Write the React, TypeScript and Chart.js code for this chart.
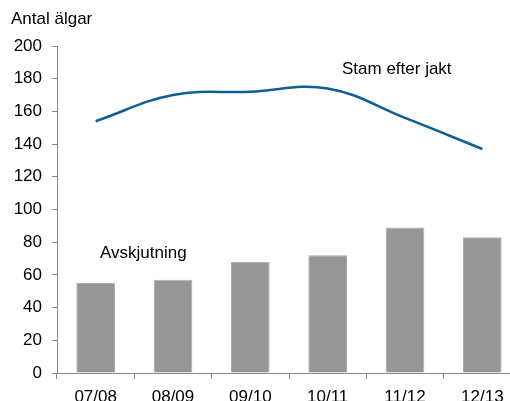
import React, { useEffect, useRef } from "react";
import { Chart, registerables } from "chart.js";

Chart.register(...registerables);

const categories = ["07/08", "08/09", "09/10", "10/11", "11/12", "12/13"];
const avskjutning = [55, 57, 68, 72, 89, 83];
const stamEfterJakt = [154, 170, 172, 174, 156, 137];
const yTicks = [0, 20, 40, 60, 80, 100, 120, 140, 160, 180, 200];

const FONT = "'Liberation Sans', Arial, sans-serif";

const textPlugin = {
  id: "labels",
  afterDraw(chart: any) {
    const ctx = chart.ctx;
    ctx.save();
    ctx.fillStyle = "#000";
    ctx.font = `17px ${FONT}`;
    ctx.textBaseline = "middle";
    ctx.textAlign = "left";
    ctx.fillText("Antal älgar", 11, 19);
    ctx.fillText("Stam efter jakt", 342, 69);
    ctx.fillText("Avskjutning", 100, 253);
    ctx.restore();
  },
};

export default function App() {
  const ref = useRef<HTMLCanvasElement>(null);
  useEffect(() => {
    const chart = new Chart(ref.current!, {
      type: "bar",
      data: {
        labels: categories,
        datasets: [
          {
            type: "line",
            label: "Stam efter jakt",
            data: stamEfterJakt,
            borderColor: "#0f5f96",
            borderWidth: 2.5,
            pointRadius: 0,
            tension: 0.4,
            fill: false,
            order: 0,
          } as any,
          {
            type: "bar",
            label: "Avskjutning",
            data: avskjutning,
            backgroundColor: "#969696",
            borderColor: "#aaaaaa",
            borderWidth: 1,
            categoryPercentage: 1,
            barPercentage: 0.5,
            order: 1,
          },
        ],
      },
      options: {
        responsive: false,
        animation: false,
        devicePixelRatio: 1,
        layout: { padding: { top: 46, right: 9, left: 0, bottom: 0 } },
        plugins: {
          legend: { display: false },
          tooltip: { enabled: false },
          title: { display: false },
        },
        scales: {
          x: {
            offset: true,
            grid: {
              offset: true,
              drawOnChartArea: false,
              tickLength: 6,
              color: "#888",
            },
            border: { color: "#888", width: 1 },
            ticks: {
              color: "#000",
              font: { family: FONT, size: 17 },
              padding: 8,
              maxRotation: 0,
              autoSkip: false,
            },
            afterFit: (s: any) => {
              s.height = 28;
            },
          },
          y: {
            min: 0,
            max: 200,
            grid: {
              drawOnChartArea: false,
              tickLength: 5,
              color: "#888",
            },
            border: { color: "#888", width: 1 },
            afterBuildTicks: (s: any) => {
              s.ticks = yTicks.map((v) => ({ value: v }));
            },
            ticks: {
              color: "#000",
              font: { family: FONT, size: 17 },
              padding: 10,
            },
            afterFit: (s: any) => {
              s.width = 57;
            },
          },
        },
      },
      plugins: [textPlugin],
    });
    return () => chart.destroy();
  }, []);
  return (
    <div
      style={{
        position: "fixed",
        left: 0,
        top: 0,
        width: 510,
        height: 401,
        overflow: "hidden",
        background: "#fff",
      }}
    >
      <canvas ref={ref} width={530} height={401} style={{ width: 530, height: 401, display: "block" }} />
    </div>
  );
}
